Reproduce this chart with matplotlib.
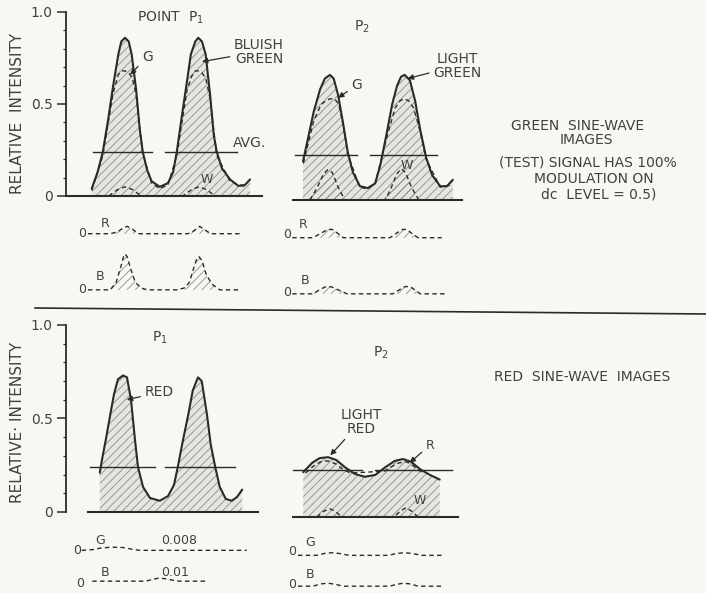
import numpy as np
import matplotlib
matplotlib.use('Agg')
import matplotlib.pyplot as plt
from matplotlib.lines import Line2D

plt.rcParams['font.family'] = ['DejaVu Sans']
plt.rcParams['mathtext.default'] = 'regular'
plt.rcParams['hatch.linewidth'] = 0.6

INK = '#2a2a2a'
TXT = '#404040'
BG = '#f8f8f3'
FILL = '#e6e6e0'
HATCH = '#8e8e88'

# x = position in cycles of the sine-wave test pattern, y = relative intensity

# --- green sine-wave images, point P1
tg1_x = [-0.45, -0.37, -0.30, -0.23, -0.16, -0.09, -0.05, 0.0, 0.05, 0.09, 0.15, 0.20,
         0.24, 0.30, 0.36, 0.47, 0.58, 0.65, 0.70, 0.77, 0.84, 0.89, 0.95, 0.99, 1.04,
         1.09, 1.15, 1.20, 1.24, 1.31, 1.42, 1.53, 1.62, 1.69]
tg1_bluish = [0.04, 0.13, 0.24, 0.41, 0.60, 0.77, 0.84, 0.86, 0.84, 0.77, 0.58, 0.36,
              0.24, 0.14, 0.08, 0.05, 0.07, 0.13, 0.24, 0.44, 0.63, 0.77, 0.84, 0.86, 0.84,
              0.77, 0.55, 0.33, 0.24, 0.15, 0.09, 0.055, 0.06, 0.09]
tg1_gx = [-0.45, -0.30, -0.16, -0.09, -0.04, 0.0, 0.05, 0.10, 0.15, 0.24, 0.36, 0.47,
          0.58, 0.70, 0.84, 0.90, 0.95, 0.99, 1.04, 1.09, 1.15, 1.24, 1.42, 1.62]
tg1_g = [0.03, 0.22, 0.56, 0.66, 0.68, 0.68, 0.67, 0.64, 0.55, 0.23, 0.07, 0.04,
         0.06, 0.22, 0.58, 0.65, 0.68, 0.68, 0.67, 0.64, 0.53, 0.22, 0.08, 0.05]
tg1_wx = [-0.22, -0.1, 0.0, 0.1, 0.22, 0.78, 0.9, 1.0, 1.1, 1.22]
tg1_w = [0.0, 0.035, 0.05, 0.035, 0.0, 0.0, 0.035, 0.05, 0.035, 0.0]
tg1_avg = 0.24
tg1_rx = [-0.5, -0.2, -0.1, -0.03, 0.03, 0.1, 0.18, 0.85, 0.93, 1.01, 1.08, 1.16, 1.58]
tg1_r = [0, 0, 0.01, 0.03, 0.04, 0.025, 0, 0, 0.015, 0.04, 0.02, 0, 0]
tg1_bx = [-0.5, -0.2, -0.12, -0.06, -0.02, 0.0, 0.03, 0.08, 0.14, 0.22, 0.3, 0.7, 0.8,
          0.87, 0.93, 0.97, 1.0, 1.04, 1.1, 1.18, 1.28, 1.55]
tg1_b = [0, 0, 0.04, 0.12, 0.18, 0.195, 0.18, 0.11, 0.04, 0.01, 0, 0, 0.01,
         0.04, 0.12, 0.17, 0.18, 0.16, 0.08, 0.03, 0, 0]

# --- green sine-wave images, point P2
tg2_x = [-0.365, -0.30, -0.22, -0.135, -0.07, 0.0, 0.05, 0.11, 0.18, 0.24, 0.31, 0.405,
         0.51, 0.61, 0.68, 0.76, 0.84, 0.905, 0.96, 1.01, 1.08, 1.15, 1.22, 1.30, 1.38,
         1.49, 1.58, 1.66]
tg2_light = [0.21, 0.33, 0.48, 0.60, 0.66, 0.68, 0.66, 0.57, 0.41, 0.26, 0.15, 0.075,
             0.065, 0.09, 0.19, 0.35, 0.52, 0.62, 0.67, 0.68, 0.65, 0.54, 0.38, 0.23, 0.135,
             0.075, 0.075, 0.11]
tg2_gx = [-0.36, -0.22, -0.12, -0.05, 0.0, 0.06, 0.12, 0.18, 0.24, 0.40, 0.51, 0.61,
          0.76, 0.88, 0.95, 1.0, 1.06, 1.13, 1.22, 1.30, 1.49, 1.62]
tg2_g = [0.20, 0.43, 0.52, 0.54, 0.55, 0.55, 0.52, 0.40, 0.25, 0.07, 0.06, 0.09,
         0.33, 0.50, 0.54, 0.55, 0.54, 0.50, 0.37, 0.22, 0.07, 0.08]
tg2_wx = [-0.27, -0.17, -0.09, -0.03, 0.03, 0.11, 0.2, 0.75, 0.83, 0.9, 0.96, 1.02, 1.1, 1.2]
tg2_w = [0, 0.07, 0.14, 0.165, 0.15, 0.07, 0, 0, 0.07, 0.14, 0.17, 0.15, 0.07, 0]
tg2_avg = 0.245
tg2_rx = [-0.51, -0.23, -0.12, -0.03, 0.03, 0.1, 0.18, 0.81, 0.9, 0.98, 1.04, 1.1, 1.19, 1.51]
tg2_r = [0, 0, 0.025, 0.045, 0.045, 0.025, 0, 0, 0.025, 0.045, 0.045, 0.025, 0, 0]
tg2_bx = [-0.51, -0.23, -0.13, -0.05, 0.02, 0.12, 0.23, 0.85, 0.95, 1.02, 1.09, 1.15, 1.22, 1.58]
tg2_b = [0, 0, 0.025, 0.04, 0.038, 0.02, 0, 0, 0.025, 0.04, 0.038, 0.02, 0, 0]

# --- red sine-wave images, point P1
tr1_x = [-0.31, -0.28, -0.23, -0.17, -0.12, -0.067, 0.0, 0.053, 0.107, 0.16, 0.20, 0.267,
         0.36, 0.49, 0.60, 0.68, 0.73, 0.80, 0.87, 0.93, 1.0, 1.05, 1.12, 1.17, 1.23,
         1.29, 1.37, 1.45, 1.52, 1.59]
tr1_red = [0.21, 0.28, 0.385, 0.52, 0.63, 0.71, 0.73, 0.72, 0.60, 0.385, 0.24, 0.134,
           0.075, 0.06, 0.085, 0.145, 0.24, 0.385, 0.52, 0.65, 0.72, 0.70, 0.52, 0.36, 0.24,
           0.134, 0.07, 0.06, 0.08, 0.12]
tr1_avg = 0.24
tr1_gx = [-0.55, -0.4, -0.3, -0.15, 0.0, 0.12, 0.22, 1.65]
tr1_g = [0, 0.004, 0.012, 0.017, 0.015, 0.006, 0, 0]
tr1_bx = [-0.41, 0.3, 0.4, 0.47, 0.55, 0.65, 0.75, 1.13]
tr1_b = [0, 0, 0.01, 0.016, 0.014, 0.006, 0, 0]

# --- red sine-wave images, point P2
tr2_x = [-0.33, -0.21, -0.11, 0.0, 0.11, 0.23, 0.36, 0.49, 0.63, 0.76, 0.89, 1.0,
         1.11, 1.23, 1.36, 1.49]
tr2_light = [0.24, 0.29, 0.315, 0.32, 0.305, 0.265, 0.23, 0.215, 0.225, 0.265, 0.30, 0.31,
             0.295, 0.255, 0.225, 0.20]
tr2_rx = [-0.3, -0.2, -0.1, 0.0, 0.1, 0.2, 0.3, 0.75, 0.85, 0.95, 1.05, 1.15, 1.25]
tr2_r = [0.235, 0.27, 0.295, 0.30, 0.285, 0.255, 0.235, 0.245, 0.27, 0.29, 0.295, 0.27, 0.24]
tr2_wx = [-0.15, -0.06, 0.02, 0.1, 0.18, 0.88, 0.96, 1.04, 1.12, 1.2]
tr2_w = [0, 0.03, 0.045, 0.03, 0, 0, 0.03, 0.05, 0.03, 0]
tr2_avg = 0.25
tr2_gx = [-0.4, -0.15, -0.05, 0.05, 0.15, 0.28, 0.8, 0.92, 1.02, 1.12, 1.25, 1.53]
tr2_g = [0, 0, 0.01, 0.014, 0.01, 0, 0, 0.01, 0.014, 0.01, 0, 0]
tr2_bx = [-0.4, -0.2, -0.1, 0.0, 0.1, 0.2, 0.82, 0.92, 1.0, 1.1, 1.2, 1.53]
tr2_b = [0, 0, 0.012, 0.016, 0.01, 0, 0, 0.01, 0.016, 0.012, 0, 0]

# offsets of the small colour-component traces drawn under each panel
OFF1 = -0.205
OFF2_TOP = -0.51
OFF2_BOT = -0.37

W, H = 706, 593
fig = plt.figure(figsize=(W / 100, H / 100), dpi=100, facecolor=BG)

BIG = 10      # captions
SMALL = 9     # trace letters, small numbers


def panel(x0, sx, y0, sy, xlim, ylim):
    # x0, y0: pixel where x=0 / y=0 falls; sx, sy: pixels per data unit
    left = x0 + xlim[0] * sx
    bottom = y0 - ylim[0] * sy
    ax = fig.add_axes([left / W, 1 - bottom / H,
                       (xlim[1] - xlim[0]) * sx / W, (ylim[1] - ylim[0]) * sy / H])
    ax.set_xlim(xlim)
    ax.set_ylim(ylim)
    ax.patch.set_visible(False)
    for s in ax.spines.values():
        s.set_visible(False)
    ax.set_xticks([])
    ax.set_yticks([])
    return ax


def y_axis(ax):
    ax.spines['left'].set_visible(True)
    ax.spines['left'].set_bounds(0, 1)
    ax.spines['left'].set_color(INK)
    ax.spines['left'].set_linewidth(1.3)
    ax.set_yticks([0, 0.5, 1.0], ['0', '0.5', '1.0'])
    ax.set_yticks(np.arange(0.1, 1.0, 0.1), minor=True)
    ax.tick_params(axis='y', which='major', length=6.5, width=1.1, color=INK,
                   labelsize=10, labelcolor=TXT, pad=3)
    ax.tick_params(axis='y', which='minor', length=2.5, width=0.9, color=INK)


def wave(ax, x, y, base):
    ax.fill_between(x, 0, y, facecolor=FILL, edgecolor=HATCH, hatch='////', linewidth=0)
    ax.plot(x, y, color=INK, lw=1.5, solid_capstyle='round')
    ax.plot(base, [0, 0], color=INK, lw=1.5)


def avg(ax, level, segs):
    for a, b in segs:
        ax.plot([a, b], [level, level], color=INK, lw=1.0)


def dashed(ax, x, y, off=0.0, hatch=False):
    yy = np.asarray(y) + off
    if hatch:
        ax.fill_between(x, off, yy, facecolor='none', edgecolor=HATCH, hatch='////', linewidth=0)
    ax.plot(x, yy, color=INK, lw=1.0, ls=(0, (3.2, 2.4)))


def lab(ax, x, y, s, size=BIG, **kw):
    ax.text(x, y, s, fontsize=size, color=TXT, ha='center', va='center', **kw)


def arrow(ax, s, tip, at, size=BIG):
    ax.annotate(s, xy=tip, xytext=at, fontsize=size, color=TXT, ha='center', va='center',
                multialignment='center', linespacing=1.0,
                arrowprops=dict(arrowstyle='-|>', color=INK, lw=0.9, mutation_scale=8,
                                shrinkA=1, shrinkB=0))


def ftext(px, py, s, size=BIG, **kw):
    fig.text(px / W, 1 - py / H, s, fontsize=size, color=TXT, ha='center', va='center', **kw)


# ---------------- green, P1
ax = panel(125, 74, 196, 184, (-0.8, 1.95), (-0.62, 1.05))
y_axis(ax)
wave(ax, tg1_x, tg1_bluish, [-0.8, 1.85])
dashed(ax, tg1_gx, tg1_g)
dashed(ax, tg1_wx, tg1_w)
avg(ax, tg1_avg, [(-0.43, 0.36), (0.54, 1.51)])
dashed(ax, tg1_rx, tg1_r, OFF1, hatch=True)
dashed(ax, tg1_bx, tg1_b, OFF2_TOP, hatch=True)
lab(ax, 0.61, 0.97, 'POINT  P$_1$')
arrow(ax, 'G', (0.07, 0.66), (0.30, 0.755))
arrow(ax, 'BLUISH\nGREEN', (1.04, 0.73), (1.81, 0.785))
lab(ax, 1.68, 0.29, 'AVG.')
lab(ax, 1.11, 0.087, 'W', SMALL)
lab(ax, -0.58, OFF1, '0', SMALL)
lab(ax, -0.27, OFF1 + 0.055, 'R', SMALL)
lab(ax, -0.58, OFF2_TOP, '0', SMALL)
lab(ax, -0.34, OFF2_TOP + 0.07, 'B', SMALL)

# ---------------- green, P2
ax = panel(330, 74, 200, 184, (-0.6, 1.85), (-0.62, 1.05))
wave(ax, tg2_x, tg2_light, [-0.5, 1.78])
dashed(ax, tg2_gx, tg2_g)
dashed(ax, tg2_wx, tg2_w, hatch=True)
avg(ax, tg2_avg, [(-0.47, 0.36), (0.54, 1.45)])
dashed(ax, tg2_rx, tg2_r, OFF1, hatch=True)
dashed(ax, tg2_bx, tg2_b, OFF2_TOP, hatch=True)
lab(ax, 0.43, 0.94, 'P$_2$')
arrow(ax, 'G', (0.11, 0.555), (0.36, 0.625))
arrow(ax, 'LIGHT\nGREEN', (1.05, 0.66), (1.72, 0.73))
lab(ax, 1.04, 0.19, 'W', SMALL)
lab(ax, -0.58, OFF1 + 0.015, '0', SMALL)
lab(ax, -0.36, OFF1 + 0.07, 'R', SMALL)
lab(ax, -0.58, OFF2_TOP + 0.005, '0', SMALL)
lab(ax, -0.34, OFF2_TOP + 0.075, 'B', SMALL)

ftext(578, 126, 'GREEN  SINE-WAVE')
ftext(586, 140, 'IMAGES')
ftext(588, 162, '(TEST) SIGNAL HAS 100%')
ftext(594, 179, 'MODULATION ON')
ftext(599, 195, 'dc  LEVEL = 0.5)')

# separator between the two groups
fig.add_artist(Line2D([35 / W, 1.0], [1 - 308 / H, 1 - 314 / H], color=INK, lw=1.2))

# ---------------- red, P1
ax = panel(123, 75, 512, 187, (-0.76, 1.95), (-0.44, 1.05))
y_axis(ax)
wave(ax, tr1_x, tr1_red, [-0.47, 1.8])
avg(ax, tr1_avg, [(-0.44, 0.43), (0.56, 1.49)])
dashed(ax, tr1_gx, tr1_g, OFF1)
dashed(ax, tr1_bx, tr1_b, OFF2_BOT)
lab(ax, 0.49, 0.93, 'P$_1$')
arrow(ax, 'RED', (0.05, 0.60), (0.48, 0.64))
lab(ax, -0.61, OFF1, '0', SMALL)
lab(ax, -0.31, OFF1 + 0.055, 'G', SMALL)
lab(ax, 0.75, OFF1 + 0.05, '0.008', SMALL)
lab(ax, -0.57, OFF2_BOT - 0.01, '0', SMALL)
lab(ax, -0.24, OFF2_BOT + 0.045, 'B', SMALL)
lab(ax, 0.69, OFF2_BOT + 0.045, '0.01', SMALL)

# ---------------- red, P2
ax = panel(328, 75, 517, 187, (-0.6, 1.85), (-0.44, 1.05))
wave(ax, tr2_x, tr2_light, [-0.47, 1.73])
dashed(ax, tr2_rx, tr2_r)
dashed(ax, tr2_wx, tr2_w)
avg(ax, tr2_avg, [(-0.47, 0.45), (0.62, 1.65)])
dashed(ax, tr2_gx, tr2_g, OFF1)
dashed(ax, tr2_bx, tr2_b, OFF2_BOT)
lab(ax, 0.71, 0.88, 'P$_2$')
arrow(ax, 'LIGHT\nRED', (0.03, 0.33), (0.44, 0.51))
arrow(ax, 'R', (1.09, 0.29), (1.36, 0.385), SMALL)
lab(ax, 1.23, 0.09, 'W', SMALL)
lab(ax, -0.48, OFF1 + 0.02, '0', SMALL)
lab(ax, -0.24, OFF1 + 0.07, 'G', SMALL)
lab(ax, -0.48, OFF2_BOT + 0.01, '0', SMALL)
lab(ax, -0.24, OFF2_BOT + 0.06, 'B', SMALL)

ftext(582, 377, 'RED  SINE-WAVE  IMAGES')

ftext(18, 113, 'RELATIVE  INTENSITY', 11, rotation=90)
ftext(18, 422, 'RELATIVE· INTENSITY', 11, rotation=90)

fig.savefig('out.png', dpi=100, facecolor=BG)
